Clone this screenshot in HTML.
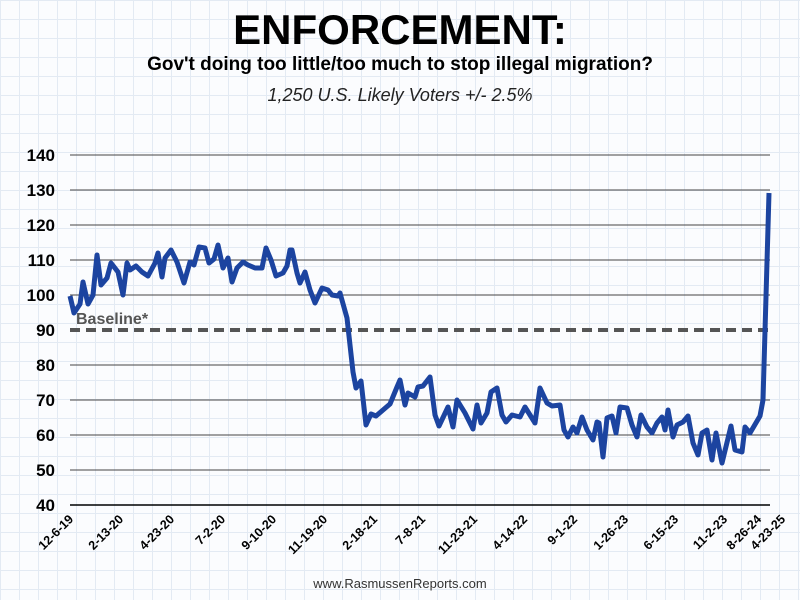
<!DOCTYPE html>
<html><head><style>
body{margin:0;width:800px;height:600px;overflow:hidden;font-family:"Liberation Sans",Arial,sans-serif;
background-color:#fbfcfe;
background-image:linear-gradient(#e3eaf3 1px,transparent 1px),linear-gradient(90deg,#e3eaf3 1px,transparent 1px);
background-size:19px 19px;}
</style></head><body>
<svg width="800" height="600" xmlns="http://www.w3.org/2000/svg" style="position:absolute;left:0;top:0">
<text x="400" y="44" text-anchor="middle" font-size="42" font-weight="bold" fill="#000">ENFORCEMENT:</text>
<text x="400" y="70" text-anchor="middle" font-size="19" font-weight="bold" fill="#000">Gov't doing too little/too much to stop illegal migration?</text>
<text x="400" y="101" text-anchor="middle" font-size="18" font-style="italic" fill="#222">1,250 U.S. Likely Voters +/- 2.5%</text>
<g stroke="#444" stroke-width="1">
<line x1="70" x2="770" y1="155" y2="155"/><line x1="70" x2="770" y1="190" y2="190"/>
<line x1="70" x2="770" y1="225" y2="225"/><line x1="70" x2="770" y1="260" y2="260"/>
<line x1="70" x2="770" y1="295" y2="295"/><line x1="70" x2="770" y1="365" y2="365"/>
<line x1="70" x2="770" y1="400" y2="400"/><line x1="70" x2="770" y1="435" y2="435"/>
<line x1="70" x2="770" y1="470" y2="470"/></g>
<line x1="70" x2="770" y1="505" y2="505" stroke="#000" stroke-width="1.5"/>
<line x1="70" x2="770" y1="330" y2="330" stroke="#555" stroke-width="4" stroke-dasharray="10,6"/>
<text x="76" y="324" font-size="16" font-weight="bold" fill="#555">Baseline*</text>
<g font-size="17" font-weight="bold" text-anchor="end" fill="#000">
<text x="55" y="161">140</text><text x="55" y="196">130</text><text x="55" y="231">120</text>
<text x="55" y="266">110</text><text x="55" y="301">100</text><text x="55" y="336">90</text>
<text x="55" y="371">80</text><text x="55" y="406">70</text><text x="55" y="441">60</text>
<text x="55" y="476">50</text><text x="55" y="511">40</text></g>
<polyline fill="none" stroke="#1c44a0" stroke-width="5" stroke-linejoin="round" points="70,296 74,313 80,304 83,282 88,304 93,295 97,255 101,285 107,278 111,263 118,272 123,295 127,263 130,270 136,266 142,272 148,276 155,263 158,253 162,277 165,258 171,250 177,262 184,283 190,262 194,265 199,247 205,248 209,263 214,259 218,245 223,268 228,258 232,282 237,268 243,262 248,265 255,268 262,268 266,248 271,260 276,276 283,273 287,266 290,250 292,250 297,273 300,283 305,272 310,290 315,303 322,288 328,290 332,295 338,296 340,293 347,318 350,345 353,372 356,388 361,381 366,425 371,414 376,416 383,410 390,404 397,387 400,380 405,405 408,393 415,397 418,387 423,386 430,377 435,415 439,426 448,407 453,427 457,400 465,413 473,429 477,405 481,423 487,413 491,392 497,388 502,415 506,422 512,415 520,417 525,407 535,423 540,388 547,403 552,406 560,405 564,430 568,437 573,427 577,433 582,417 587,430 593,440 597,422 599,423 603,457 607,418 612,416 616,433 620,407 627,408 632,425 637,437 641,415 647,427 652,433 657,423 662,417 665,430 668,410 673,437 677,425 683,422 688,416 693,443 698,455 702,433 707,430 712,460 716,433 722,463 731,426 735,450 742,452 745,427 750,433 760,416 763,400 769,193"/>
<g font-size="12.5" font-weight="bold" text-anchor="end" fill="#000">
<text transform="translate(74,520) rotate(-45)">12-6-19</text>
<text transform="translate(124,520) rotate(-45)">2-13-20</text>
<text transform="translate(175,520) rotate(-45)">4-23-20</text>
<text transform="translate(226,520) rotate(-45)">7-2-20</text>
<text transform="translate(277,520) rotate(-45)">9-10-20</text>
<text transform="translate(328,520) rotate(-45)">11-19-20</text>
<text transform="translate(378,520) rotate(-45)">2-18-21</text>
<text transform="translate(426,520) rotate(-45)">7-8-21</text>
<text transform="translate(478,520) rotate(-45)">11-23-21</text>
<text transform="translate(528,520) rotate(-45)">4-14-22</text>
<text transform="translate(578,520) rotate(-45)">9-1-22</text>
<text transform="translate(629,520) rotate(-45)">1-26-23</text>
<text transform="translate(679,520) rotate(-45)">6-15-23</text>
<text transform="translate(728,520) rotate(-45)">11-2-23</text>
<text transform="translate(762,520) rotate(-45)">8-26-24</text>
<text transform="translate(786,520) rotate(-45)">4-23-25</text>
</g>
<text x="400" y="588" text-anchor="middle" font-size="13" fill="#333">www.RasmussenReports.com</text>
</svg>
</body></html>
